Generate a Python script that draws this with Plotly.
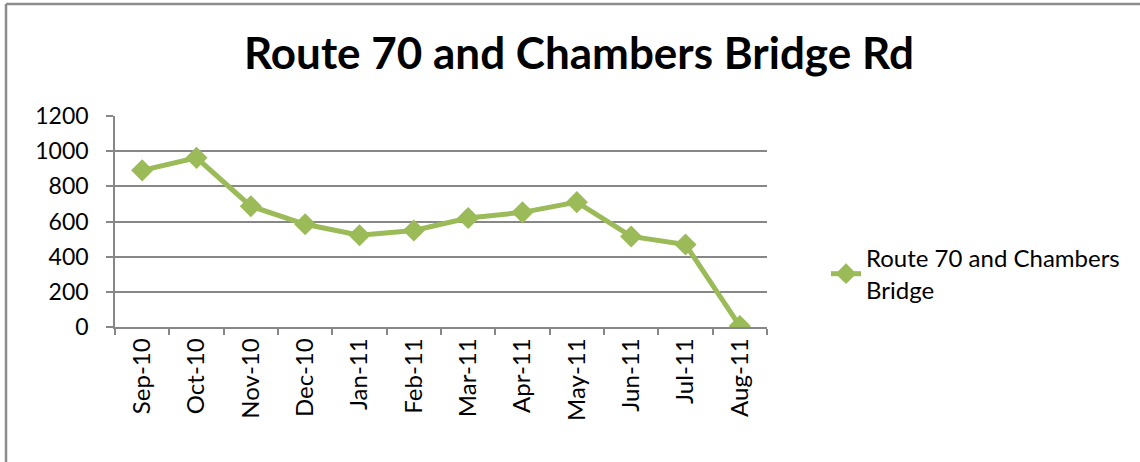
import plotly.graph_objects as go

months = ["Sep-10", "Oct-10", "Nov-10", "Dec-10", "Jan-11", "Feb-11",
          "Mar-11", "Apr-11", "May-11", "Jun-11", "Jul-11", "Aug-11"]
values = [891, 962, 687, 584, 522, 549, 620, 652, 710, 515, 469, 5]
series_name = "Route 70 and Chambers<br>Bridge"
title_text = "Route 70 and Chambers Bridge Rd"
y_ticks = [0, 200, 400, 600, 800, 1000, 1200]

W, H = 1140, 462
L, R, T, B = 115, 767, 116, 327
pw, ph = R - L, B - T

def px(x):
    return (x - L) / pw

def py(y):
    return (B - y) / ph

FONT = "Lato"
GREEN = "#9BBB59"
GRID = "#878787"

fig = go.Figure()
fig.add_trace(go.Scatter(
    x=months, y=values, name=series_name, mode="lines+markers",
    line=dict(color=GREEN, width=5),
    marker=dict(symbol="diamond", size=17, color=GREEN),
    showlegend=True,
))

fig.update_layout(
    width=W, height=H,
    margin=dict(l=L, r=W - R, t=T, b=H - B),
    paper_bgcolor="white", plot_bgcolor="white",
    font=dict(family=FONT, size=24, color="black"),
    title=dict(text="<b>" + title_text + "</b>", font=dict(family=FONT, size=44, color="black"),
               x=579 / W, xref="container", xanchor="center",
               y=1 - 54 / H, yref="container", yanchor="middle"),
    showlegend=True,
    legend=dict(x=px(826), xanchor="left", y=py(274), yanchor="middle",
                font=dict(family=FONT, size=24, color="black"),
                bgcolor="rgba(0,0,0,0)", borderwidth=0),
    xaxis=dict(type="category", tickson="boundaries", ticks="outside", ticklen=6,
               tickcolor=GRID, tickwidth=1.5, showline=True, linecolor=GRID, linewidth=1.5,
               showgrid=False, tickangle=-90, tickfont=dict(family=FONT, size=24),
               range=[-0.5, len(months) - 0.5], fixedrange=True),
    yaxis=dict(range=[0, 1200], tickvals=y_ticks, ticks="outside", ticklen=7,
               tickcolor=GRID, tickwidth=1.5, showline=True, linecolor=GRID, linewidth=1.5,
               showgrid=True, gridcolor=GRID, gridwidth=1.5, zeroline=False,
               tickfont=dict(family=FONT, size=23), ticklabelstandoff=13, fixedrange=True),
    shapes=[
        dict(type="line", xref="paper", yref="paper", x0=px(6), x1=px(6), y0=py(4), y1=py(H + 5),
             line=dict(color="#8C8C8C", width=2.5)),
        dict(type="line", xref="paper", yref="paper", x0=px(6), x1=px(W + 5), y0=py(4), y1=py(4),
             line=dict(color="#8C8C8C", width=2.5)),
    ],
)

fig.write_html("out.html", config={"displayModeBar": False},
               post_script="document.body.style.margin='0';")
